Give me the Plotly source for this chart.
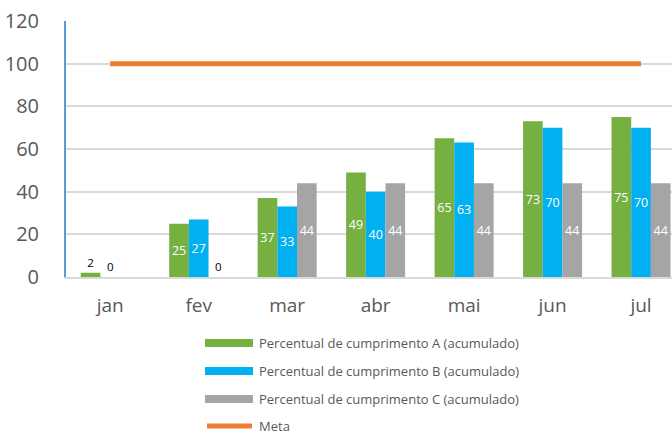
import plotly.graph_objects as go

months = ["jan", "fev", "mar", "abr", "mai", "jun", "jul"]
serie_a = [2, 25, 37, 49, 65, 73, 75]
serie_b = [0, 27, 33, 40, 63, 70, 70]
serie_c = [None, 0, 44, 44, 44, 44, 44]
meta = [100, 100, 100, 100, 100, 100, 100]
names = [
    "Percentual de cumprimento A (acumulado)",
    "Percentual de cumprimento B (acumulado)",
    "Percentual de cumprimento C (acumulado)",
    "Meta",
]
colors = ["#76B041", "#00B0F0", "#A5A5A5", "#ED7D31"]
y_ticks = [0, 20, 40, 60, 80, 100, 120]

FONT = "Open Sans"
W, H = 672, 435
L, R, T, B = 66, 0, 21, 158

fig = go.Figure()
for vals, name, col in zip([serie_a, serie_b, serie_c], names[:3], colors[:3]):
    texts = ["" if v is None else str(v) for v in vals]
    pos = ["outside" if (v is not None and v < 5) else "inside" for v in vals]
    fig.add_trace(go.Bar(
        x=months, y=vals, name=name, marker=dict(color=col, line=dict(width=0)),
        text=texts, textposition=pos, insidetextanchor="middle",
        textangle=0, constraintext="none", cliponaxis=False,
        insidetextfont=dict(color="white", size=12.5, family=FONT),
        outsidetextfont=dict(color="#000000", size=11.5, family=FONT),
        hoverinfo="x+y",
    ))

fig.add_trace(go.Scatter(
    x=months, y=meta, name=names[3], mode="lines",
    line=dict(color=colors[3], width=5),
))

def px_x(px):
    return (px - L) / (W - L - R)

def px_y(py):
    return (H - B - py) / (H - T - B)

shapes = []
annotations = []
rows = [343, 371, 399, 426]
for i, (py, name, col) in enumerate(zip(rows, names, colors)):
    if i < 3:
        shapes.append(dict(type="rect", xref="paper", yref="paper",
                           x0=px_x(205), x1=px_x(253), y0=px_y(py + 4), y1=px_y(py - 4),
                           fillcolor=col, line=dict(width=0)))
    else:
        shapes.append(dict(type="line", xref="paper", yref="paper",
                           x0=px_x(207), x1=px_x(252), y0=px_y(py), y1=px_y(py),
                           line=dict(color=col, width=5)))
    annotations.append(dict(xref="paper", yref="paper", x=px_x(257), y=px_y(py),
                            xanchor="left", yanchor="middle", showarrow=False,
                            text=name, font=dict(size=13, color="#595959", family=FONT)))

fig.update_layout(
    width=W, height=H,
    margin=dict(l=L, r=R, t=T, b=B),
    paper_bgcolor="white", plot_bgcolor="white",
    barmode="group", bargap=0.333, bargroupgap=0,
    showlegend=False,
    shapes=shapes, annotations=annotations,
    font=dict(family=FONT, color="#595959"),
)
fig.update_xaxes(
    range=[-0.5, 6.35], showgrid=False,
    showline=True, linecolor="#D9D9D9", linewidth=1.5,
    tickfont=dict(size=19, color="#595959", family=FONT),
    ticks="", ticklabelstandoff=10,
)
fig.update_yaxes(
    range=[0, 120], tickvals=y_ticks,
    showgrid=True, gridcolor="#D9D9D9", gridwidth=1.5,
    showline=True, linecolor="#5B9BD5", linewidth=2,
    zeroline=False,
    tickfont=dict(size=20, color="#595959", family=FONT),
    ticks="", ticklabelstandoff=21,
)

fig.write_html("out.html", config={"displayModeBar": False},
               post_script="document.body.style.margin='0';")
